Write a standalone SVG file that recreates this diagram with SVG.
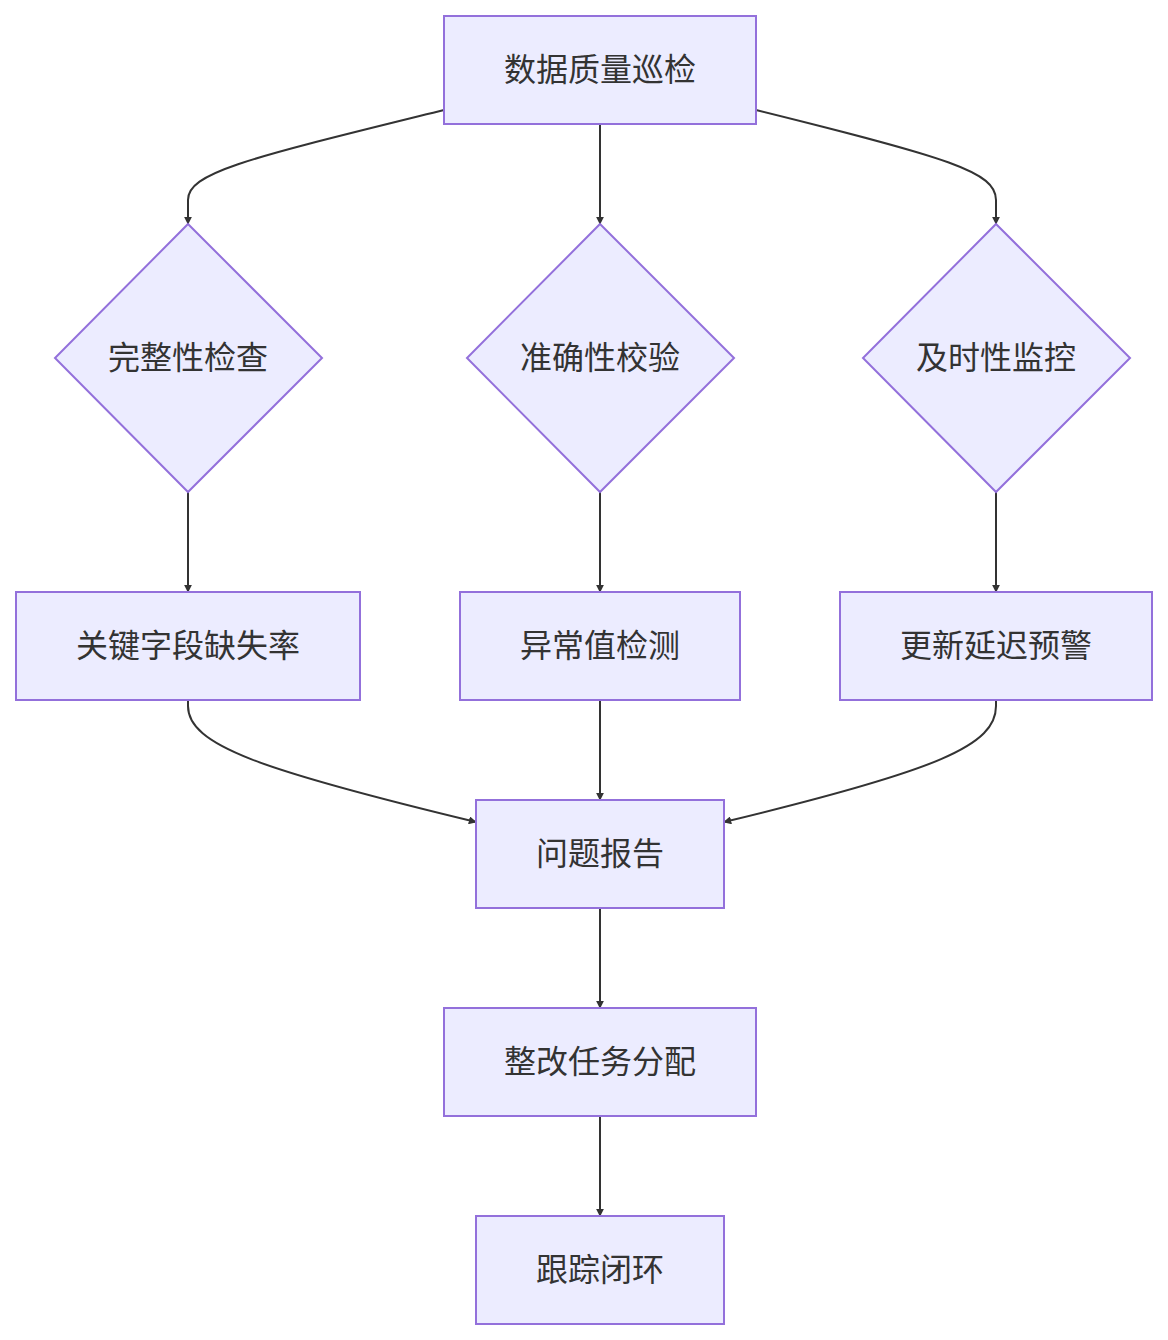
<svg xmlns="http://www.w3.org/2000/svg" width="1168" height="1340" viewBox="0 0 1168 1340">
<style>
.n{fill:#ECECFF;stroke:#9370DB;stroke-width:2}
.t{font-family:"Liberation Sans","Noto Sans CJK SC",sans-serif;font-size:32px;fill:#333;text-anchor:middle;dominant-baseline:central}
.e{fill:none;stroke:#333;stroke-width:2;marker-end:url(#a)}
</style>
<defs><marker id="a" viewBox="0 0 10 10" refX="9" refY="5" markerWidth="8" markerHeight="8" markerUnits="userSpaceOnUse" orient="auto"><path d="M0,0L10,5L0,10z" fill="#333"/></marker></defs>
<rect width="1168" height="1340" fill="#fff"/>
<g id="edges">
<path class="e" d="M444,110 C250,158 188,172 188,200 L188,224"/>
<path class="e" d="M600,124 L600,224"/>
<path class="e" d="M756,110 C950,158 996,172 996,200 L996,224"/>
<path class="e" d="M188,492 L188,592"/>
<path class="e" d="M600,492 L600,592"/>
<path class="e" d="M996,492 L996,592"/>
<path class="e" d="M188,700 L188,706 C188,745 260,770 476,822"/>
<path class="e" d="M600,700 L600,800"/>
<path class="e" d="M996,700 L996,706 C996,745 940,770 724,822"/>
<path class="e" d="M600,908 L600,1008"/>
<path class="e" d="M600,1116 L600,1216"/>
</g>
<g id="n0"><rect class="n" x="444" y="16" width="312" height="108"/><text class="t" x="600" y="70">数据质量巡检</text></g>
<g id="d1"><polygon class="n" points="188,224 322,358 188,492 55,358"/><text class="t" x="188" y="358">完整性检查</text></g>
<g id="d2"><polygon class="n" points="600,224 734,358 600,492 467,358"/><text class="t" x="600" y="358">准确性校验</text></g>
<g id="d3"><polygon class="n" points="996,224 1130,358 996,492 863,358"/><text class="t" x="996" y="358">及时性监控</text></g>
<g id="r1"><rect class="n" x="16" y="592" width="344" height="108"/><text class="t" x="188" y="646">关键字段缺失率</text></g>
<g id="r2"><rect class="n" x="460" y="592" width="280" height="108"/><text class="t" x="600" y="646">异常值检测</text></g>
<g id="r3"><rect class="n" x="840" y="592" width="312" height="108"/><text class="t" x="996" y="646">更新延迟预警</text></g>
<g id="p"><rect class="n" x="476" y="800" width="248" height="108"/><text class="t" x="600" y="854">问题报告</text></g>
<g id="z"><rect class="n" x="444" y="1008" width="312" height="108"/><text class="t" x="600" y="1062">整改任务分配</text></g>
<g id="g"><rect class="n" x="476" y="1216" width="248" height="108"/><text class="t" x="600" y="1270">跟踪闭环</text></g>
</svg>
